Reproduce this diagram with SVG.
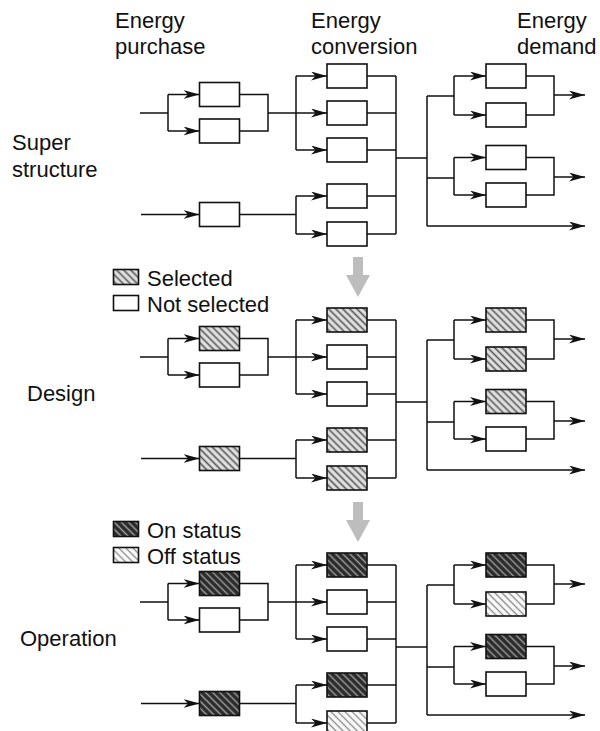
<svg xmlns="http://www.w3.org/2000/svg" width="600" height="731" viewBox="0 0 600 731">
<style>
.t{font-family:"Liberation Sans",Arial,sans-serif;font-size:22px;fill:#111}
.ln{fill:none;stroke:#111;stroke-width:1.5}
.ar{marker-end:url(#ah)}
.bx{stroke:#111;stroke-width:1.6}
.w{fill:#fff}
.sel{fill:url(#hSel)}
.on{fill:url(#hOn)}
.off{fill:url(#hOff)}
.ga{fill:#bdbdbd}
</style>
<defs>
<marker id="ah" markerUnits="userSpaceOnUse" markerWidth="16" markerHeight="10" refX="16" refY="4.5" orient="auto">
<path d="M0,0 L16,4.5 L0,9 L4.5,4.5 Z" fill="#111"/>
</marker>
<pattern id="hSel" patternUnits="userSpaceOnUse" width="5" height="5" patternTransform="rotate(-45)">
<rect width="5" height="5" fill="#e2e2e2"/>
<line x1="1.5" y1="0" x2="1.5" y2="5" stroke="#555" stroke-width="1.6"/>
</pattern>
<pattern id="hOn" patternUnits="userSpaceOnUse" width="5" height="5" patternTransform="rotate(-45)">
<rect width="5" height="5" fill="#2a2a2a"/>
<line x1="1.5" y1="0" x2="1.5" y2="5" stroke="#a0a0a0" stroke-width="1.4"/>
</pattern>
<pattern id="hOff" patternUnits="userSpaceOnUse" width="5" height="5" patternTransform="rotate(-45)">
<rect width="5" height="5" fill="#fafafa"/>
<line x1="1.5" y1="0" x2="1.5" y2="5" stroke="#8a8a8a" stroke-width="1.3"/>
</pattern>
</defs>

<g id="headers">
<text class="t" x="115" y="28">Energy</text>
<text class="t" x="115" y="54">purchase</text>
<text class="t" x="311" y="28">Energy</text>
<text class="t" x="311" y="54">conversion</text>
<text class="t" x="517" y="28">Energy</text>
<text class="t" x="517" y="54">demand</text>
</g>
<g id="row-labels">
<text class="t" x="12" y="150">Super</text>
<text class="t" x="12" y="177">structure</text>
<text class="t" x="27" y="401">Design</text>
<text class="t" x="20" y="646">Operation</text>
</g>

<g id="legend-design">
<rect class="bx sel" x="113.5" y="269.5" width="25" height="15"/>
<text class="t" x="147" y="286">Selected</text>
<rect class="bx w" x="113.5" y="295.5" width="25" height="15"/>
<text class="t" x="147" y="312">Not selected</text>
</g>
<g id="legend-operation">
<rect class="bx on" x="113.5" y="521.5" width="25" height="15"/>
<text class="t" x="147" y="538">On status</text>
<rect class="bx off" x="113.5" y="547.5" width="25" height="15"/>
<text class="t" x="147" y="564">Off status</text>
</g>

<g id="gray-arrows">
<path class="ga" d="M353,257 H363 V275 H370 L358,297 L346,275 H353 Z"/>
<path class="ga" d="M353,502 H363 V520 H370 L358,542 L346,520 H353 Z"/>
</g>

<!-- Section 1: Super structure -->
<g id="super-connectors" class="ln">
<path d="M140,113 H168 M168,94.5 V131"/>
<path class="ar" d="M168,94.5 H199.5"/>
<path class="ar" d="M168,131 H199.5"/>
<path d="M239.5,94.5 H268 V131 H239.5 M268,113 H296"/>
<path class="ar" d="M141,214.5 H199.5"/>
<path d="M239.5,214.5 H296"/>
<path d="M296,76 V150 M296,196 V234"/>
<path class="ar" d="M296,76 H327"/>
<path class="ar" d="M296,113 H327"/>
<path class="ar" d="M296,150 H327"/>
<path class="ar" d="M296,196 H327"/>
<path class="ar" d="M296,234 H327"/>
<path d="M367,76 H396 M367,113 H396 M367,150 H396 M367,196 H396 M367,234 H396 M396,76 V234 M396,158 H427"/>
<path d="M427,96 V226 M427,96 H454 M454,76 V115 M427,178 H454 M454,157.5 V195"/>
<path class="ar" d="M454,76 H486"/>
<path class="ar" d="M454,115 H486"/>
<path class="ar" d="M454,157.5 H486"/>
<path class="ar" d="M454,195 H486"/>
<path d="M526,76 H554 V115 H526 M526,157.5 H554 V195 H526"/>
<path class="ar" d="M554,95 H585"/>
<path class="ar" d="M554,177 H585"/>
<path class="ar" d="M427,226 H585"/>
</g>
<g id="s-p1"><rect class="bx w" x="199.5" y="82.5" width="40" height="24"/></g>
<g id="s-p2"><rect class="bx w" x="199.5" y="119" width="40" height="24"/></g>
<g id="s-p3"><rect class="bx w" x="199.5" y="202.5" width="40" height="24"/></g>
<g id="s-c1"><rect class="bx w" x="327" y="64" width="40" height="24"/></g>
<g id="s-c2"><rect class="bx w" x="327" y="101" width="40" height="24"/></g>
<g id="s-c3"><rect class="bx w" x="327" y="138" width="40" height="24"/></g>
<g id="s-c4"><rect class="bx w" x="327" y="184" width="40" height="24"/></g>
<g id="s-c5"><rect class="bx w" x="327" y="222" width="40" height="24"/></g>
<g id="s-d1"><rect class="bx w" x="486" y="64" width="40" height="24"/></g>
<g id="s-d2"><rect class="bx w" x="486" y="103" width="40" height="24"/></g>
<g id="s-d3"><rect class="bx w" x="486" y="145.5" width="40" height="24"/></g>
<g id="s-d4"><rect class="bx w" x="486" y="183" width="40" height="24"/></g>

<!-- Section 2: Design -->
<g transform="translate(0,244)">
<g id="design-connectors" class="ln">
<path d="M140,113 H168 M168,94.5 V131"/>
<path class="ar" d="M168,94.5 H199.5"/>
<path class="ar" d="M168,131 H199.5"/>
<path d="M239.5,94.5 H268 V131 H239.5 M268,113 H296"/>
<path class="ar" d="M141,214.5 H199.5"/>
<path d="M239.5,214.5 H296"/>
<path d="M296,76 V150 M296,196 V234"/>
<path class="ar" d="M296,76 H327"/>
<path class="ar" d="M296,113 H327"/>
<path class="ar" d="M296,150 H327"/>
<path class="ar" d="M296,196 H327"/>
<path class="ar" d="M296,234 H327"/>
<path d="M367,76 H396 M367,113 H396 M367,150 H396 M367,196 H396 M367,234 H396 M396,76 V234 M396,158 H427"/>
<path d="M427,96 V226 M427,96 H454 M454,76 V115 M427,178 H454 M454,157.5 V195"/>
<path class="ar" d="M454,76 H486"/>
<path class="ar" d="M454,115 H486"/>
<path class="ar" d="M454,157.5 H486"/>
<path class="ar" d="M454,195 H486"/>
<path d="M526,76 H554 V115 H526 M526,157.5 H554 V195 H526"/>
<path class="ar" d="M554,95 H585"/>
<path class="ar" d="M554,177 H585"/>
<path class="ar" d="M427,226 H585"/>
</g>
<g id="d-p1"><rect class="bx sel" x="199.5" y="82.5" width="40" height="24"/></g>
<g id="d-p2"><rect class="bx w" x="199.5" y="119" width="40" height="24"/></g>
<g id="d-p3"><rect class="bx sel" x="199.5" y="202.5" width="40" height="24"/></g>
<g id="d-c1"><rect class="bx sel" x="327" y="64" width="40" height="24"/></g>
<g id="d-c2"><rect class="bx w" x="327" y="101" width="40" height="24"/></g>
<g id="d-c3"><rect class="bx w" x="327" y="138" width="40" height="24"/></g>
<g id="d-c4"><rect class="bx sel" x="327" y="184" width="40" height="24"/></g>
<g id="d-c5"><rect class="bx sel" x="327" y="222" width="40" height="24"/></g>
<g id="d-d1"><rect class="bx sel" x="486" y="64" width="40" height="24"/></g>
<g id="d-d2"><rect class="bx sel" x="486" y="103" width="40" height="24"/></g>
<g id="d-d3"><rect class="bx sel" x="486" y="145.5" width="40" height="24"/></g>
<g id="d-d4"><rect class="bx w" x="486" y="183" width="40" height="24"/></g>
</g>

<!-- Section 3: Operation -->
<g transform="translate(0,489)">
<g id="operation-connectors" class="ln">
<path d="M140,113 H168 M168,94.5 V131"/>
<path class="ar" d="M168,94.5 H199.5"/>
<path class="ar" d="M168,131 H199.5"/>
<path d="M239.5,94.5 H268 V131 H239.5 M268,113 H296"/>
<path class="ar" d="M141,214.5 H199.5"/>
<path d="M239.5,214.5 H296"/>
<path d="M296,76 V150 M296,196 V234"/>
<path class="ar" d="M296,76 H327"/>
<path class="ar" d="M296,113 H327"/>
<path class="ar" d="M296,150 H327"/>
<path class="ar" d="M296,196 H327"/>
<path class="ar" d="M296,234 H327"/>
<path d="M367,76 H396 M367,113 H396 M367,150 H396 M367,196 H396 M367,234 H396 M396,76 V234 M396,158 H427"/>
<path d="M427,96 V226 M427,96 H454 M454,76 V115 M427,178 H454 M454,157.5 V195"/>
<path class="ar" d="M454,76 H486"/>
<path class="ar" d="M454,115 H486"/>
<path class="ar" d="M454,157.5 H486"/>
<path class="ar" d="M454,195 H486"/>
<path d="M526,76 H554 V115 H526 M526,157.5 H554 V195 H526"/>
<path class="ar" d="M554,95 H585"/>
<path class="ar" d="M554,177 H585"/>
<path class="ar" d="M427,226 H585"/>
</g>
<g id="o-p1"><rect class="bx on" x="199.5" y="82.5" width="40" height="24"/></g>
<g id="o-p2"><rect class="bx w" x="199.5" y="119" width="40" height="24"/></g>
<g id="o-p3"><rect class="bx on" x="199.5" y="202.5" width="40" height="24"/></g>
<g id="o-c1"><rect class="bx on" x="327" y="64" width="40" height="24"/></g>
<g id="o-c2"><rect class="bx w" x="327" y="101" width="40" height="24"/></g>
<g id="o-c3"><rect class="bx w" x="327" y="138" width="40" height="24"/></g>
<g id="o-c4"><rect class="bx on" x="327" y="184" width="40" height="24"/></g>
<g id="o-c5"><rect class="bx off" x="327" y="222" width="40" height="24"/></g>
<g id="o-d1"><rect class="bx on" x="486" y="64" width="40" height="24"/></g>
<g id="o-d2"><rect class="bx off" x="486" y="103" width="40" height="24"/></g>
<g id="o-d3"><rect class="bx on" x="486" y="145.5" width="40" height="24"/></g>
<g id="o-d4"><rect class="bx w" x="486" y="183" width="40" height="24"/></g>
</g>
</svg>
